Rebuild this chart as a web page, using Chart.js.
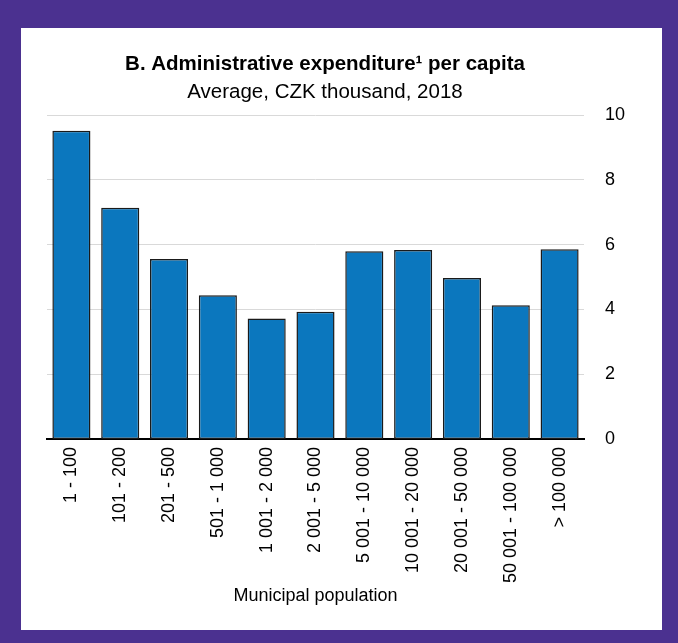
<!DOCTYPE html>
<html>
<head>
<meta charset="utf-8">
<script src="https://cdn.jsdelivr.net/npm/chart.js@4.4.1/dist/chart.umd.min.js"></script>
<style>
  html, body { margin: 0; padding: 0; }
  body { width: 678px; height: 643px; background: #4b3190; position: relative; overflow: hidden; }
  #panel { position: absolute; left: 21px; top: 28px; width: 641px; height: 602px; background: #fff; }
</style>
</head>
<body>
<div id="panel"><canvas id="chart"></canvas></div>
<script>
const categories = ['1 - 100', '101 - 200', '201 - 500', '501 - 1 000', '1 001 - 2 000', '2 001 - 5 000',
  '5 001 - 10 000', '10 001 - 20 000', '20 001 - 50 000', '50 001 - 100 000', '> 100 000'];
const expenditure = [9.52, 7.14, 5.56, 4.44, 3.72, 3.93, 5.80, 5.84, 4.97, 4.13, 5.86];
const yTicks = [0, 2, 4, 6, 8, 10];

const FONT = "'Liberation Sans', Arial, sans-serif";

new Chart(document.getElementById('chart'), {
  type: 'bar',
  data: {
    labels: categories,
    datasets: [{
      data: expenditure,
      backgroundColor: '#0b77be',
      borderColor: '#1a1a1a',
      borderWidth: 1.5,
      borderSkipped: false,
      barPercentage: 0.78,
      categoryPercentage: 1
    }]
  },
  options: {
    responsive: true, maintainAspectRatio: false, animation: false,
    layout: { padding: { left: 1, right: 34, top: 0, bottom: 18 } },
    plugins: {
      legend: { display: false },
      tooltip: { enabled: false },
      title: {
        display: true,
        text: 'B. Administrative expenditure\u00b9 per capita',
        color: '#000',
        font: { family: FONT, size: 20.5, weight: 'bold' },
        padding: { top: 24, bottom: 3 }
      },
      subtitle: {
        display: true,
        text: 'Average, CZK thousand, 2018',
        color: '#000',
        font: { family: FONT, size: 20.5 },
        padding: { top: 0, bottom: 11 }
      }
    },
    scales: {
      x: {
        grid: { display: true, color: 'rgba(0,0,0,0)', drawTicks: false },
        border: { display: true, color: '#000', width: 2 },
        ticks: { color: '#000', font: { family: FONT, size: 18 }, minRotation: 90, maxRotation: 90, padding: 8, autoSkip: false },
        title: { display: true, text: 'Municipal population', color: '#000', font: { family: FONT, size: 18 }, padding: { top: 4, bottom: 5 } },
        afterFit: (axis) => { axis.height = 173; }
      },
      // empty spacer on the left so the title sits where it does in the original
      pad: {
        type: 'linear', position: 'left', display: true,
        grid: { display: false, drawTicks: false },
        border: { display: false },
        ticks: { display: false },
        afterFit: (axis) => { axis.width = 25; }
      },
      y: {
        position: 'right',
        min: yTicks[0], max: yTicks[yTicks.length - 1],
        afterBuildTicks: (axis) => { axis.ticks = yTicks.map(v => ({ value: v })); },
        grid: { color: (c) => c.tick && c.tick.value === 0 ? 'rgba(0,0,0,0)' : '#d9d9d9', lineWidth: 1, drawTicks: false },
        border: { display: false },
        ticks: { color: '#000', font: { family: FONT, size: 18 }, padding: 21 },
        afterFit: (axis) => { axis.width = 44; }
      }
    }
  }
});
</script>
</body>
</html>
